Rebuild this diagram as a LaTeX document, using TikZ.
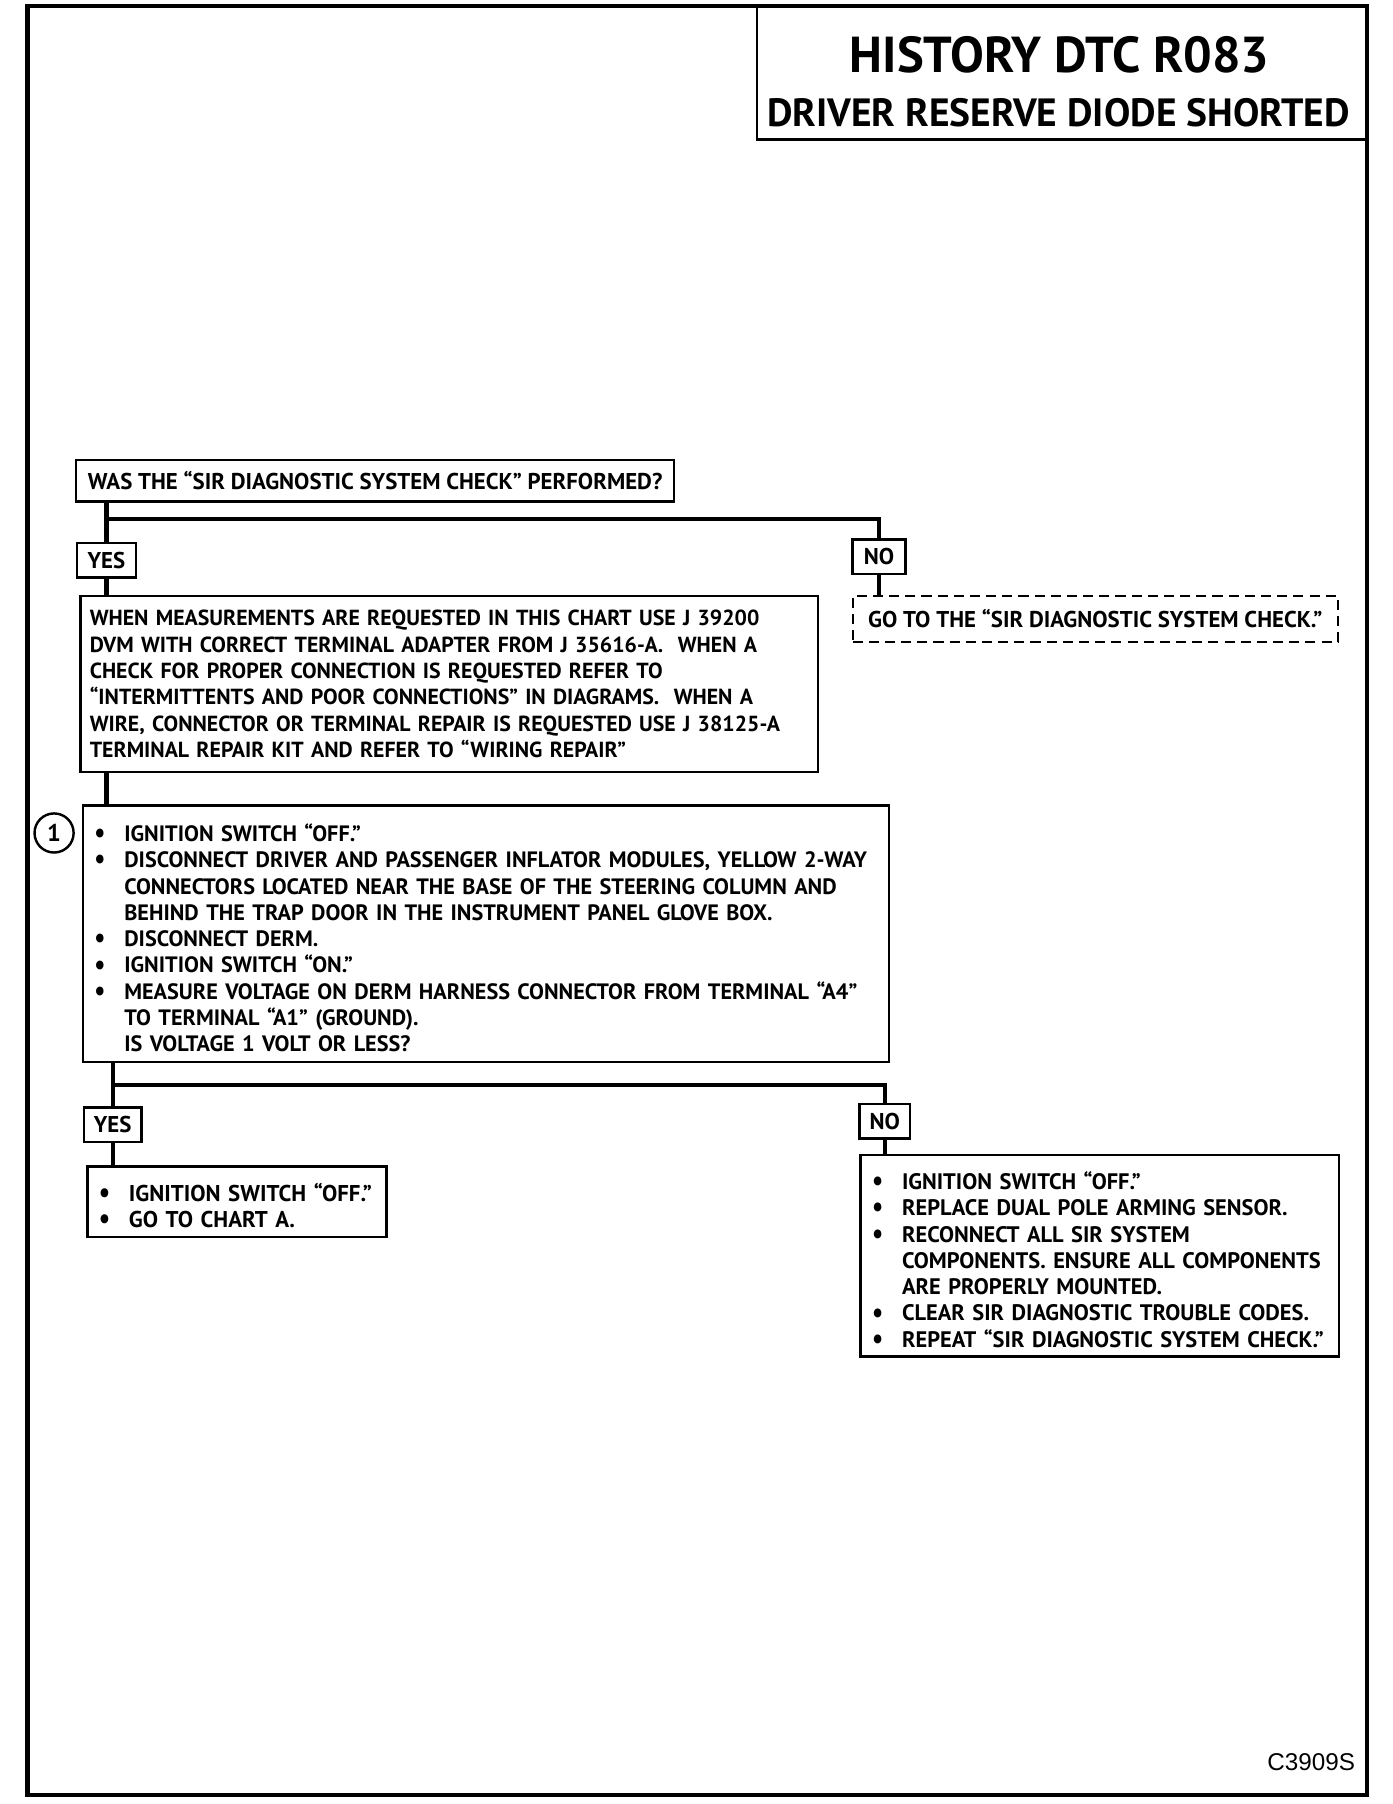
\documentclass[tikz,border=0pt]{standalone}
\usepackage{fontspec}
\setmainfont{PT Sans}
\newfontfamily\codefont{Liberation Sans}
\newcommand{\bulmark}{\raisebox{-0.1ex}{\scalebox{1.1}[1.3]{\textbullet}}}
\newcommand{\bul}[1]{\par\noindent\hangindent=0.52cm\hangafter=1\makebox[0.52cm][l]{\bulmark}#1}

\begin{document}
\begin{tikzpicture}[x=0.02cm, y=-0.02cm, every node/.style={font=\bfseries\fontsize{11.3}{13}\selectfont}]
    \tikzstyle{box}=[draw=black, line width=1.2pt, inner xsep=0.2cm, inner ysep=0pt, align=left]
    \tikzstyle{tag}=[draw=black, line width=1.2pt, minimum height=0.6cm, inner sep=0pt]
    \tikzstyle{link}=[line width=2.2pt]
    \useasboundingbox (0,0) rectangle (1210,1568);
    \draw[line width=2.2pt] (24,5) rectangle (1188,1560);

    % title block
    \draw[line width=1.3pt] (658,5) rectangle (1188,121);
    \node[font=\bfseries\fontsize{25}{27}\selectfont] (head) at (921,48) {HISTORY DTC R083};
    \node[font=\bfseries\fontsize{19.5}{21}\selectfont] (sub) at (920,98) {DRIVER RESERVE DIODE SHORTED};

    \node[box, minimum width=10.36cm, minimum height=0.72cm] (q1) at (326,418) {WAS THE “SIR DIAGNOSTIC SYSTEM CHECK” PERFORMED?};
    \node[tag, minimum width=1.02cm] (yes1) at (92.5,487) {YES};
    \node[tag, minimum width=0.92cm] (no1) at (764,484) {NO};
    \node[box, font=\bfseries\fontsize{10.8}{13}\selectfont, inner xsep=0.16cm, text width=12.5cm, minimum height=3.06cm] (info) at (390.5,594.5) {WHEN MEASUREMENTS ARE REQUESTED IN THIS CHART USE J 39200\\
      DVM WITH CORRECT TERMINAL ADAPTER FROM J 35616-A.\ \ WHEN A\\
      CHECK FOR PROPER CONNECTION IS REQUESTED REFER TO\\
      “INTERMITTENTS AND POOR CONNECTIONS” IN DIAGRAMS.\ \ WHEN A\\
      WIRE, CONNECTOR OR TERMINAL REPAIR IS REQUESTED USE J 38125-A\\
      TERMINAL REPAIR KIT AND REFER TO “WIRING REPAIR”};
    \node[box, line width=1pt, dash pattern=on 5pt off 3pt, minimum width=8.44cm, minimum height=0.8cm] (go) at (952,538) {GO TO THE “SIR DIAGNOSTIC SYSTEM CHECK.”};

    \node[box, font=\bfseries\fontsize{11}{13}\selectfont, text width=13.62cm, minimum height=4.46cm] (step) at (422.5,811.5) {%
      \bul{IGNITION SWITCH “OFF.”}
      \bul{\mbox{DISCONNECT DRIVER AND PASSENGER INFLATOR MODULES, YELLOW 2-WAY}\newline
        CONNECTORS LOCATED NEAR THE BASE OF THE STEERING COLUMN AND\newline
        BEHIND THE TRAP DOOR IN THE INSTRUMENT PANEL GLOVE BOX.}
      \bul{DISCONNECT DERM.}
      \bul{IGNITION SWITCH “ON.”}
      \bul{\mbox{MEASURE VOLTAGE ON DERM HARNESS CONNECTOR FROM TERMINAL “A4”}\newline
        TO TERMINAL “A1” (GROUND).\newline
        IS VOLTAGE 1 VOLT OR LESS?}\par};
    \node[draw, circle, line width=1.2pt, minimum size=0.68cm, inner sep=0pt, font=\bfseries\fontsize{12}{12}\selectfont] (one) at (47,724) {1};

    \node[tag, minimum width=1.0cm] (yes2) at (98,977.5) {YES};
    \node[tag, minimum width=0.88cm] (no2) at (769,974.5) {NO};
    \node[box, text width=4.8cm, minimum height=1.22cm] (resyes) at (206,1044.5) {%
      \bul{IGNITION SWITCH “OFF.”}
      \bul{GO TO CHART A.}\par};
    \node[box, font=\bfseries\fontsize{11.1}{13}\selectfont, text width=7.92cm, minimum height=3.5cm] (resno) at (956,1091.5) {%
      \bul{IGNITION SWITCH “OFF.”}
      \bul{REPLACE DUAL POLE ARMING SENSOR.}
      \bul{RECONNECT ALL SIR SYSTEM\newline
        COMPONENTS. ENSURE ALL COMPONENTS\newline
        ARE PROPERLY MOUNTED.}
      \bul{CLEAR SIR DIAGNOSTIC TROUBLE CODES.}
      \bul{REPEAT “SIR DIAGNOSTIC SYSTEM CHECK.”}\par};

    \node[font=\codefont\fontsize{12}{12}\selectfont, anchor=east] (code) at (1184,1532) {C3909S};

    \coordinate (bar1) at (93,451);
    \coordinate (bar2) at (98,943);
    \path[link]
    (yes1 |- q1.south) edge (yes1.north)
    (yes1.south) edge (yes1 |- info.north)
    (no1.south) edge (no1 |- go.north)
    (yes1 |- info.south) edge (yes1 |- step.north)
    (yes2 |- step.south) edge (yes2.north)
    (yes2.south) edge (yes2 |- resyes.north)
    (no2.south) edge (no2 |- resno.north);
    \draw[link] (bar1) -| (no1.north);
    \draw[link] (bar2) -| (no2.north);
\end{tikzpicture}
\end{document}
